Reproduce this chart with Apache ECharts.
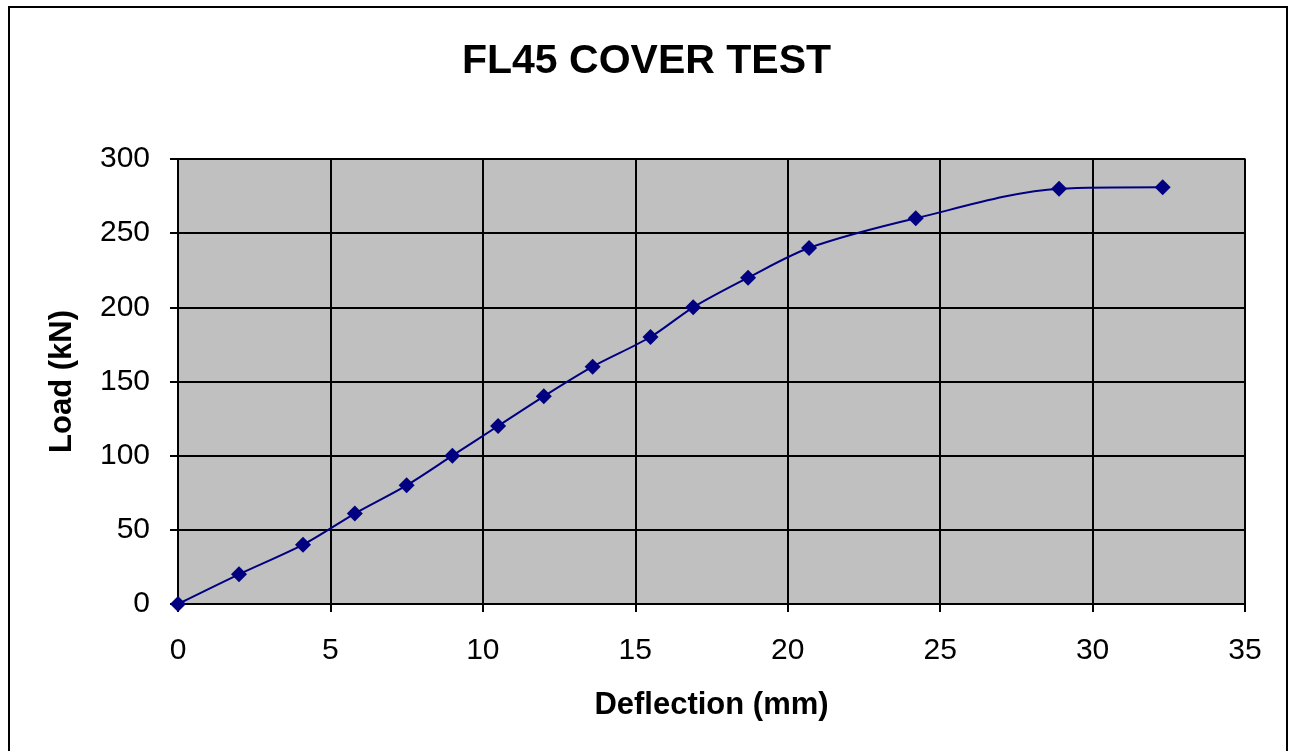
<!DOCTYPE html>
<html><head><meta charset="utf-8">
<script src="https://cdn.jsdelivr.net/npm/echarts@6/dist/echarts.min.js"></script>
<style>html,body{margin:0;padding:0;background:#fff}#c{width:1293px;height:751px}</style>
</head><body><div id="c"></div>
<script>
const deflection = [0, 2.0, 4.1, 5.8, 7.5, 9.0, 10.5, 12.0, 13.6, 15.5, 16.9, 18.7, 20.7, 24.2, 28.9, 32.3];
const load = [0, 20, 40, 61, 80, 100, 120, 140, 160, 180, 200, 220, 240, 260, 280, 281];
const xTicks = [0, 5, 10, 15, 20, 25, 30, 35];
const yTicks = [0, 50, 100, 150, 200, 250, 300];

const chart = echarts.init(document.getElementById('c'));
const font = 'Liberation Sans, Arial, sans-serif';
chart.setOption({
  animation: false,
  title: {text: 'FL45 COVER TEST', left: 'center', top: 36,
    textStyle: {fontFamily: font, fontSize: 41, fontWeight: 'bold', color: '#000'}},
  graphic: [{type: 'rect', shape: {x: 9, y: 7, width: 1278, height: 760},
    style: {fill: 'none', stroke: '#000', lineWidth: 2}, silent: true}],
  grid: {left: 178, top: 159, width: 1067, height: 445, show: true,
    backgroundColor: '#c0c0c0', borderColor: '#808080', borderWidth: 2},
  xAxis: {type: 'value', min: xTicks[0], max: xTicks[xTicks.length-1], interval: 5,
    name: 'Deflection (mm)', nameLocation: 'middle', nameGap: 86,
    nameTextStyle: {fontFamily: font, fontSize: 31, fontWeight: 'bold', color: '#000'},
    axisLine: {show: true, lineStyle: {color: '#000', width: 2}},
    axisTick: {show: true, length: 8, lineStyle: {color: '#000', width: 2}},
    axisLabel: {fontFamily: font, fontSize: 30, color: '#000', margin: 32},
    splitLine: {show: true, lineStyle: {color: '#000', width: 2}}},
  yAxis: {type: 'value', min: yTicks[0], max: yTicks[yTicks.length-1], interval: 50,
    name: 'Load (kN)', nameLocation: 'middle', nameGap: 100,
    nameTextStyle: {fontFamily: font, fontSize: 31, fontWeight: 'bold', color: '#000'},
    axisLine: {show: true, lineStyle: {color: '#000', width: 2}},
    axisTick: {show: true, length: 8, lineStyle: {color: '#000', width: 2}},
    axisLabel: {fontFamily: font, fontSize: 30, color: '#000', margin: 28},
    splitLine: {show: true, lineStyle: {color: '#000', width: 2}}},
  series: [{type: 'line', data: deflection.map((d, i) => [d, load[i]]),
    smooth: 0.3, symbol: 'diamond', symbolSize: 16,
    lineStyle: {color: '#000080', width: 2}, itemStyle: {color: '#000080'}}]
});
</script></body></html>
